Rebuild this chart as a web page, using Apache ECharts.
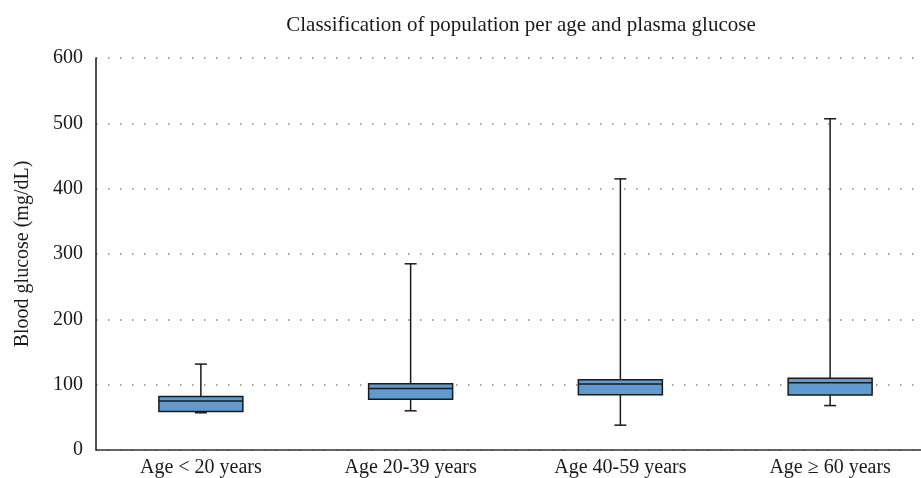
<!DOCTYPE html>
<html>
<head>
<meta charset="utf-8">
<script src="https://cdn.jsdelivr.net/npm/echarts@6/dist/echarts.min.js"></script>
<style>
  html, body { margin: 0; padding: 0; background: #fff; }
  #chart { width: 921px; height: 478px; }
</style>
</head>
<body>
<div id="chart"></div>
<script>
// age groups on the x axis
var categories = ['Age < 20 years', 'Age 20-39 years', 'Age 40-59 years', 'Age \u2265 60 years']
// box plot values (mg/dL)
var minValues = [57, 60, 38, 68]
var q1Values = [59, 77.5, 84.5, 84]
var medianValues = [75, 94, 101, 103]
var q3Values = [82, 101.5, 107.5, 110]
var maxValues = [131.5, 285, 415, 507]
var yTicks = [0, 100, 200, 300, 400, 500, 600]

var boxData = categories.map(function (c, i) {
  return [i, minValues[i], q1Values[i], medianValues[i], q3Values[i], maxValues[i]]
})

var FONT = '"Liberation Serif", "DejaVu Serif", serif'

function renderBox (params, api) {
  var idx = api.value(0)
  var pMin = api.coord([idx, api.value(1)])
  var pQ1 = api.coord([idx, api.value(2)])
  var pMed = api.coord([idx, api.value(3)])
  var pQ3 = api.coord([idx, api.value(4)])
  var pMax = api.coord([idx, api.value(5)])
  var x = pMed[0]
  var boxW = 84
  var capW = 12
  var line = { stroke: '#1a1a1a', lineWidth: 1.5 }
  return {
    type: 'group',
    children: [
      { type: 'line', shape: { x1: x, y1: pMax[1], x2: x, y2: pQ3[1] }, style: line },
      { type: 'line', shape: { x1: x, y1: pQ1[1], x2: x, y2: pMin[1] }, style: line },
      { type: 'line', shape: { x1: x - capW / 2, y1: pMax[1], x2: x + capW / 2, y2: pMax[1] }, style: line },
      { type: 'line', shape: { x1: x - capW / 2, y1: pMin[1], x2: x + capW / 2, y2: pMin[1] }, style: line },
      {
        type: 'rect',
        shape: { x: x - boxW / 2, y: pQ3[1], width: boxW, height: pQ1[1] - pQ3[1] },
        style: { fill: '#5f9bd0', stroke: '#1a1a1a', lineWidth: 1.5 }
      },
      { type: 'line', shape: { x1: x - boxW / 2, y1: pMed[1], x2: x + boxW / 2, y2: pMed[1] }, style: line }
    ]
  }
}

var chart = echarts.init(document.getElementById('chart'))
chart.setOption({
  animation: false,
  title: {
    text: 'Classification of population per age and plasma glucose',
    left: 516,
    textAlign: 'center',
    top: 10,
    textStyle: { fontFamily: FONT, fontSize: 21, fontWeight: 'normal', color: '#1a1a1a' }
  },
  // plot runs past the right edge of the picture, as in the original
  grid: { left: 96, right: -14, top: 58, bottom: 28, outerBoundsMode: 'none', containLabel: false },
  xAxis: {
    type: 'category',
    data: categories,
    axisLine: { lineStyle: { color: '#333', width: 1.5 } },
    axisTick: { show: false },
    axisLabel: { fontFamily: FONT, fontSize: 20, color: '#1a1a1a', margin: 8 },
    splitLine: { show: false }
  },
  yAxis: {
    type: 'value',
    min: 0,
    max: 600,
    interval: 100,
    name: 'Blood glucose (mg/dL)',
    nameLocation: 'middle',
    nameGap: 63,
    nameTextStyle: { fontFamily: FONT, fontSize: 20, color: '#1a1a1a' },
    axisLine: { show: true, lineStyle: { color: '#1a1a1a', width: 1.5 } },
    axisTick: { show: false },
    axisLabel: {
      fontFamily: FONT, fontSize: 20, color: '#1a1a1a', margin: 13,
      formatter: function (v) { return yTicks.indexOf(v) >= 0 ? String(v) : '' }
    },
    splitLine: { lineStyle: { color: '#888', width: 1.5, type: [1.5, 10.5] } }
  },
  series: [{
    type: 'custom',
    renderItem: renderBox,
    encode: { x: 0, y: [1, 2, 3, 4, 5] },
    data: boxData
  }]
})
</script>
</body>
</html>
